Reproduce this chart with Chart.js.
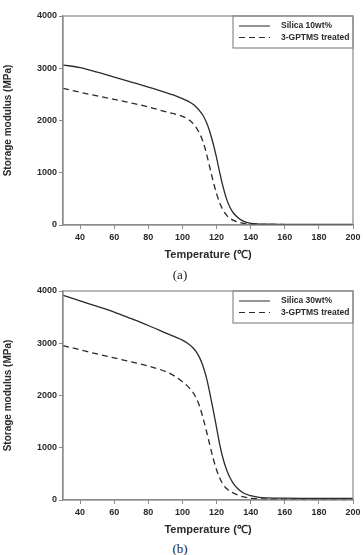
<!DOCTYPE html>
<html>
<head>
<meta charset="utf-8">
<script src="https://cdn.jsdelivr.net/npm/chart.js@4.4.1/dist/chart.umd.min.js"></script>
<style>
  body { margin: 0; background: #fff; width: 364px; height: 555px; position: relative; overflow: hidden; }
  .box { position: absolute; left: 0; width: 364px; height: 262px; }
  .cap { position: absolute; width: 364px; left: -2px; text-align: center; font-family: "Liberation Serif", serif; font-size: 13px; color: #222; }
</style>
</head>
<body>
<div class="box" style="top:0"><canvas id="chartA" width="364" height="262"></canvas></div>
<div class="box" style="top:275px"><canvas id="chartB" width="364" height="262"></canvas></div>
<div class="cap" style="top:267px">(a)</div>
<div class="cap" style="top:541px">(b)</div>
<script>
// temperature (C)
const temps = [30, 40, 50, 60, 70, 80, 90, 95, 100, 103, 106, 108, 110, 112, 114, 116, 118, 120, 122, 124, 126, 128, 130, 133, 136, 140, 145, 150, 160, 170, 180, 190, 200];

// (a) storage modulus, MPa
const silica10 = [3065, 3010, 2925, 2830, 2735, 2640, 2540, 2485, 2420, 2375, 2315, 2260, 2190, 2100, 1970, 1790, 1560, 1290, 985, 710, 485, 330, 225, 130, 68, 32, 18, 14, 12, 11, 10, 10, 10];
const treated10 = [2615, 2540, 2470, 2405, 2335, 2260, 2170, 2130, 2078, 2030, 1950, 1870, 1760, 1600, 1380, 1110, 840, 600, 410, 275, 185, 125, 88, 52, 30, 18, 12, 10, 9, 8, 8, 8, 8];

// (b) storage modulus, MPa
const silica30 = [3917, 3810, 3705, 3596, 3470, 3340, 3200, 3130, 3060, 3000, 2920, 2840, 2730, 2570, 2350, 2055, 1730, 1390, 1040, 770, 570, 420, 310, 200, 130, 85, 50, 40, 35, 32, 30, 30, 30];
const treated30 = [2955, 2875, 2795, 2720, 2645, 2565, 2460, 2380, 2265, 2180, 2070, 1955, 1800, 1580, 1330, 1060, 800, 580, 410, 290, 215, 165, 130, 88, 58, 32, 22, 18, 16, 15, 15, 15, 15];

const xTicks = [40, 60, 80, 100, 120, 140, 160, 180, 200];
const yTicks = [0, 1000, 2000, 3000, 4000];

const labelsA = ['Silica 10wt%', '3-GPTMS treated'];
const labelsB = ['Silica 30wt%', '3-GPTMS treated'];

const ink = '#2a2a2a';
const frame = '#8a8a8a';

// frame round the plot and legend box in the top right corner
const framePlugin = {
  id: 'framePlugin',
  afterDraw(chart) {
    const c = chart.ctx;
    const a = chart.chartArea;
    c.save();
    c.strokeStyle = frame;
    c.lineWidth = 1.2;
    c.strokeRect(a.left, a.top, a.right - a.left, a.bottom - a.top);

    const w = 120, h = 32;
    const lx = a.right - w, ly = a.top;
    c.strokeRect(lx, ly, w, h);
    c.font = 'bold 8.5px "Liberation Sans", Arial, sans-serif';
    c.textBaseline = 'middle';
    chart.data.datasets.forEach((ds, i) => {
      const y = ly + 10 + i * 11.5;
      c.strokeStyle = ds.borderColor;
      c.lineWidth = 1;
      c.setLineDash(ds.borderDash || []);
      c.beginPath();
      c.moveTo(lx + 6, y);
      c.lineTo(lx + 37, y);
      c.stroke();
      c.setLineDash([]);
      c.fillStyle = ink;
      c.fillText(ds.label, lx + 48, y);
    });
    c.restore();
  }
};

function toPoints(vals) {
  return temps.map((t, i) => ({ x: t, y: vals[i] }));
}

function makeChart(id, labels, solid, dashed) {
  return new Chart(document.getElementById(id), {
    type: 'line',
    data: {
      datasets: [{
        label: labels[0],
        data: toPoints(solid),
        borderColor: ink,
        borderWidth: 1.3,
        pointRadius: 0,
        cubicInterpolationMode: 'monotone'
      }, {
        label: labels[1],
        data: toPoints(dashed),
        borderColor: ink,
        borderWidth: 1.3,
        borderDash: [6, 4],
        pointRadius: 0,
        cubicInterpolationMode: 'monotone'
      }]
    },
    options: {
      responsive: false,
      animation: false,
      devicePixelRatio: 1,
      layout: { padding: { top: 16, right: 11, left: 0, bottom: 0 } },
      plugins: { legend: { display: false }, tooltip: { enabled: false } },
      scales: {
        x: {
          type: 'linear',
          min: 30,
          max: 200,
          afterBuildTicks: s => { s.ticks = xTicks.map(v => ({ value: v })); },
          grid: { drawOnChartArea: false, drawTicks: true, tickLength: 4, color: frame },
          border: { color: frame, width: 1.2 },
          ticks: { color: ink, font: { family: '"Liberation Sans", Arial', size: 9, weight: 'bold' }, padding: 3, maxRotation: 0 },
          title: { display: true, text: 'Temperature (\u2103)', color: ink, font: { family: '"Liberation Sans", Arial', size: 11, weight: 'bold' }, padding: { top: 3, bottom: 0 } }
        },
        y: {
          min: 0,
          max: 4000,
          afterBuildTicks: s => { s.ticks = yTicks.map(v => ({ value: v })); },
          grid: { drawOnChartArea: false, drawTicks: true, tickLength: 4, color: frame },
          border: { color: frame, width: 1.2 },
          ticks: { color: ink, font: { family: '"Liberation Sans", Arial', size: 9, weight: 'bold' }, padding: 2, callback: v => String(v) },
          title: { display: true, text: 'Storage modulus (MPa)', color: ink, font: { family: '"Liberation Sans", Arial', size: 10, weight: 'bold' }, padding: { top: 2, bottom: 21 } }
        }
      }
    },
    plugins: [framePlugin]
  });
}

makeChart('chartA', labelsA, silica10, treated10);
makeChart('chartB', labelsB, silica30, treated30);
</script>
</body>
</html>
